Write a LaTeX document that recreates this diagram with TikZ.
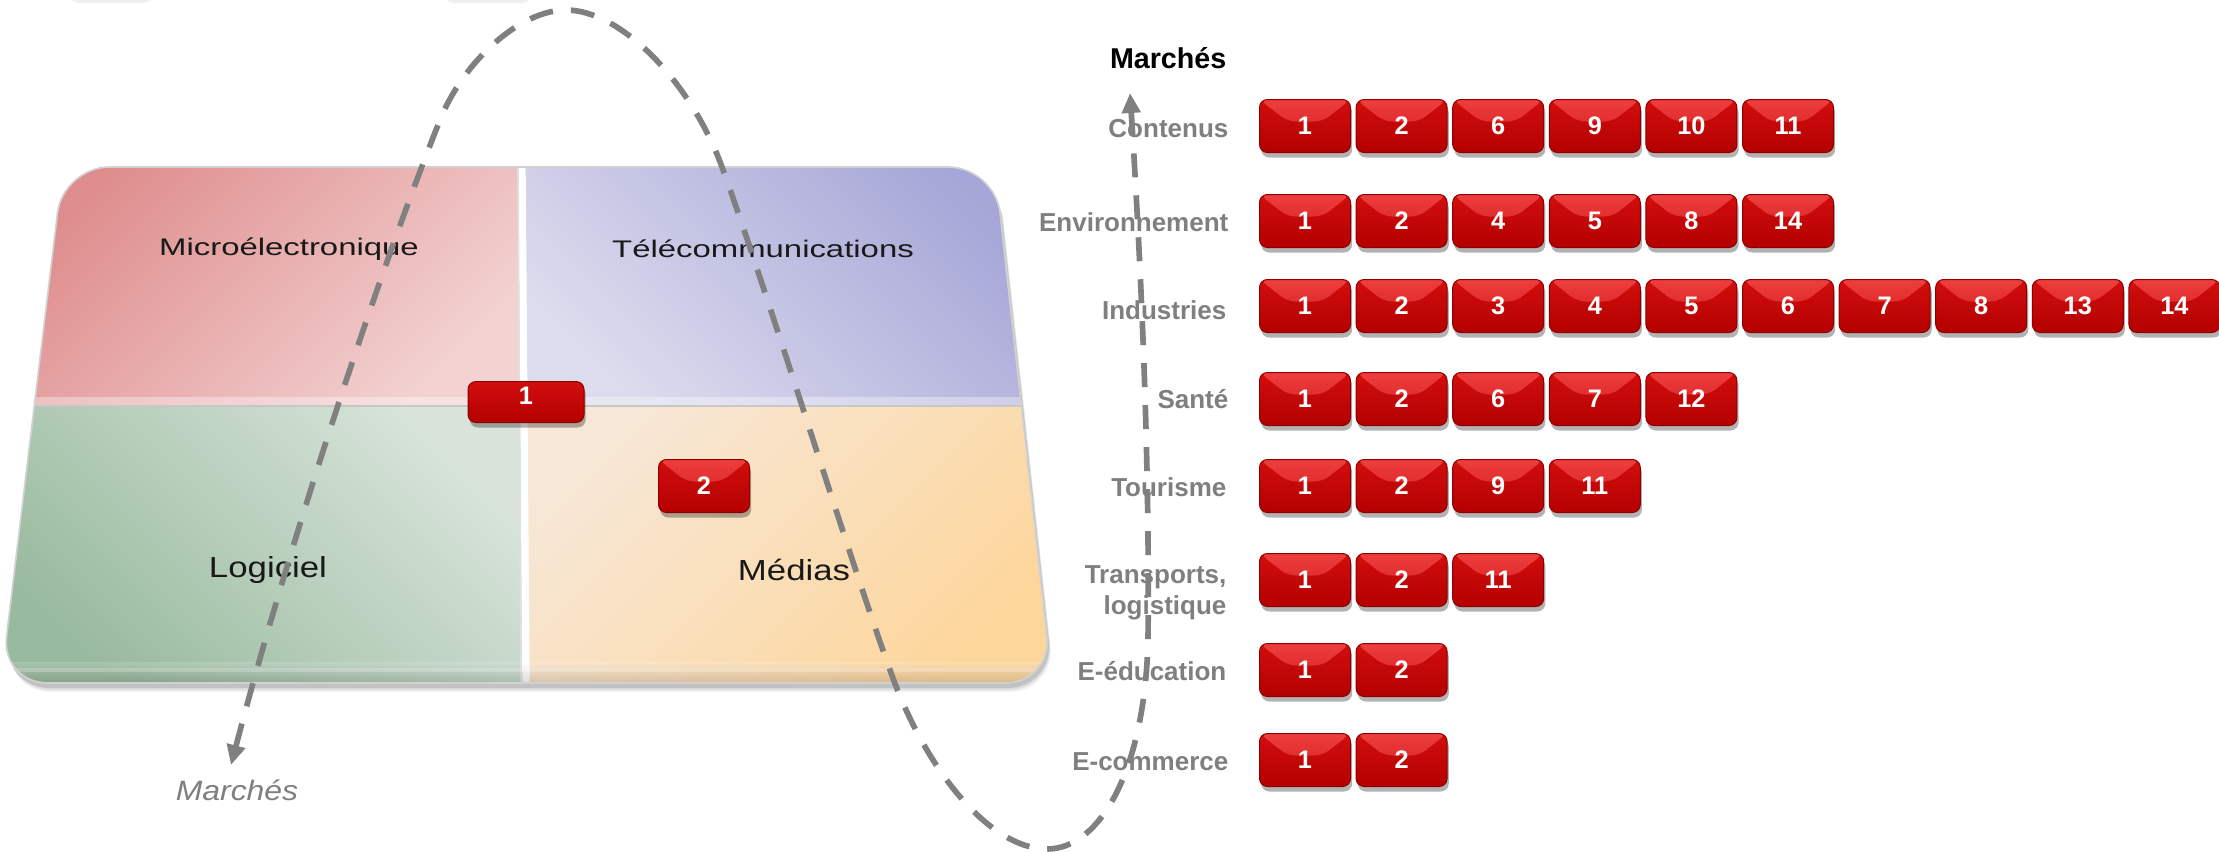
\documentclass[tikz,border=0pt]{standalone}
\usepackage{fontspec}
\setmainfont{Liberation Sans}
\usetikzlibrary{arrows.meta,shadows,calc}

\definecolor{lineGray}{RGB}{128,128,128}
\definecolor{labelGray}{RGB}{127,127,127}
\definecolor{rTop}{RGB}{210,14,14}
\definecolor{rBot}{RGB}{180,0,0}
\definecolor{rEdge}{RGB}{140,0,0}
\definecolor{bvTop}{RGB}{238,62,62}
\definecolor{bvBot}{RGB}{208,22,22}
\definecolor{micA}{RGB}{222,140,140}
\definecolor{micB}{RGB}{243,210,210}
\definecolor{telA}{RGB}{165,165,215}
\definecolor{telB}{RGB}{220,220,238}
\definecolor{logA}{RGB}{152,186,158}
\definecolor{logB}{RGB}{216,228,218}
\definecolor{medA}{RGB}{247,231,214}
\definecolor{medB}{RGB}{253,214,155}

\begin{document}
\begin{tikzpicture}[x=0.3pt,y=-0.3pt,
  basebadge/.style={shape=rectangle, rounded corners=2.4pt,
    minimum width=27.3pt, minimum height=15.9pt, inner sep=0pt,
    top color=rTop, bottom color=rBot, draw=rEdge, line width=0.3pt,
    text=white, font=\bfseries\fontsize{7.6}{8}\selectfont,
    drop shadow={shadow xshift=0.5pt, shadow yshift=-1.5pt, opacity=0.3, fill=black}},
  badge/.style={basebadge,
    path picture={
      \shade[top color=bvTop, bottom color=bvBot]
        (path picture bounding box.north west)
        -- (path picture bounding box.north east)
        -- ([xshift=-8.4pt,yshift=-6.6pt]path picture bounding box.north east)
        -- ([xshift=8.4pt,yshift=-6.6pt]path picture bounding box.north west)
        -- cycle;
    }},
  badgenum/.style={inner sep=0pt, text=white, font=\bfseries\fontsize{7.6}{8}\selectfont},
  quadlbl/.style={inner sep=0pt, text=black!90},
  mlabel/.style={anchor=east, inner sep=0pt, align=right, text=labelGray,
    font=\bfseries\fontsize{7.8}{9.3}\selectfont},
  axiscurve/.style={draw=lineGray, line width=1.7pt,
    dash pattern=on 7.2pt off 5.4pt,
    {Triangle[length=6pt,width=5.4pt]}-{Triangle[length=6pt,width=5.4pt]}}
]
\useasboundingbox (0,0) rectangle (2219,851);
\fill[white] (0,0) rectangle (2219,851);

% faint shadow edges along the top border
\fill[black, opacity=0.06, rounded corners=3pt] (69,-10) rectangle (153,3);
\fill[black, opacity=0.06, rounded corners=3pt] (444,-10) rectangle (532,3);

% platform shadow
\foreach \d/\o in {9/0.06,7/0.08,5/0.12} {
  \fill[black, opacity=\o, rounded corners=14pt]
    (63+\d*0.4,167+\d) -- (995+\d*0.4,167+\d) -- (1052+\d*0.4,683+\d) -- (1+\d*0.4,683+\d) -- cycle;
}

% platform with four coloured quadrants
\begin{scope}
  \clip[rounded corners=14pt] (63,167) -- (995,167) -- (1052,683) -- (1,683) -- cycle;
  \shade[top color=micA, bottom color=micB, shading angle=45] (0,160) rectangle (522,406);
  \shade[top color=telA, bottom color=telB, shading angle=-45] (522,160) rectangle (1060,406);
  \shade[top color=logB, bottom color=logA, shading angle=-45] (0,406) rectangle (525,690);
  \shade[top color=medA, bottom color=medB, shading angle=45] (525,406) rectangle (1060,690);
  \fill[white, opacity=0.35] (0,397) rectangle (1060,405);
  \draw[black!22, line width=0.7pt] (0,406) -- (1060,406);
  \draw[white, line width=2.2pt] (522,167) -- (526,683);
  \draw[black!12, line width=0.5pt] (518,167) -- (521,683);
  \shade[top color=white, bottom color=black, opacity=0.16] (0,662) rectangle (1060,686);
  \fill[white, opacity=0.22] (0,668) rectangle (1060,672);
\end{scope}
\draw[rounded corners=14pt, black!18, line width=0.5pt]
  (63,167) -- (995,167) -- (1052,683) -- (1,683) -- cycle;

% quadrant titles
\node[quadlbl, xscale=1.37, font=\fontsize{7.2}{8.6}\selectfont] (qMicro) at (289,249) {Microélectronique};
\node[quadlbl, xscale=1.37, font=\fontsize{7.2}{8.6}\selectfont] (qTele) at (763,249) {Télécommunications};
\node[quadlbl, xscale=1.2, font=\fontsize{8.7}{10}\selectfont] (qLog) at (268,570) {Logiciel};
\node[quadlbl, xscale=1.2, font=\fontsize{8.7}{10}\selectfont] (qMed) at (794,570) {Médias};

% badges on the platform
\node[basebadge, minimum width=34.8pt, minimum height=12.3pt] (pb1) at (526,402) {};
\node[badgenum] (pb1num) at (526,396) {1};
\node[badge] (pb2) at (704,486) {2};

% market names
\node[anchor=east, inner sep=0pt, font=\bfseries\fontsize{8.6}{10}\selectfont] (title) at (1227,58) {Marchés};
\node[mlabel] (lCont) at (1229,129) {Contenus};
\node[mlabel] (lEnv) at (1229,222) {Environnement};
\node[mlabel] (lInd) at (1227,310) {Industries};
\node[mlabel] (lSante) at (1229,399) {Santé};
\node[mlabel] (lTour) at (1227,487) {Tourisme};
\node[mlabel] (lTrans) at (1227,593) {Transports,\\logistique};
\node[mlabel] (lEdu) at (1227,671) {E-éducation};
\node[mlabel] (lCom) at (1229,762) {E-commerce};

\node[inner sep=0pt, xscale=1.14, text=labelGray, font=\itshape\fontsize{8.4}{10}\selectfont] (axisLabel) at (237,790) {Marchés};

% dashed axis looping through the platform
\coordinate (tipL) at (231,765);
\coordinate (tipR) at (1130,93);
\draw[axiscurve] (tipL)
  .. controls (290,540) and (380,270) .. (440,120)
  .. controls (464,60) and (521,10) .. (566,10)
  .. controls (620,10) and (690,80) .. (722,167)
  .. controls (765,285) and (850,560) .. (890,670)
  .. controls (925,770) and (990,849) .. (1047,849)
  .. controls (1100,849) and (1145,770) .. (1148,640)
  .. controls (1150,450) and (1140,250) .. (tipR);

% badge rows
\foreach \row/\y/\nums in {
  1/126/{1,2,6,9,10,11},
  2/221/{1,2,4,5,8,14},
  3/306/{1,2,3,4,5,6,7,8,13,14},
  4/399/{1,2,6,7,12},
  5/486/{1,2,9,11},
  6/580/{1,2,11},
  7/670/{1,2},
  8/760/{1,2}} {
  \foreach \n [count=\i] in \nums {
    \node[badge] (b\row-\i) at ({1305+96.6*(\i-1)},\y) {\n};
  }
}
\end{tikzpicture}
\end{document}
